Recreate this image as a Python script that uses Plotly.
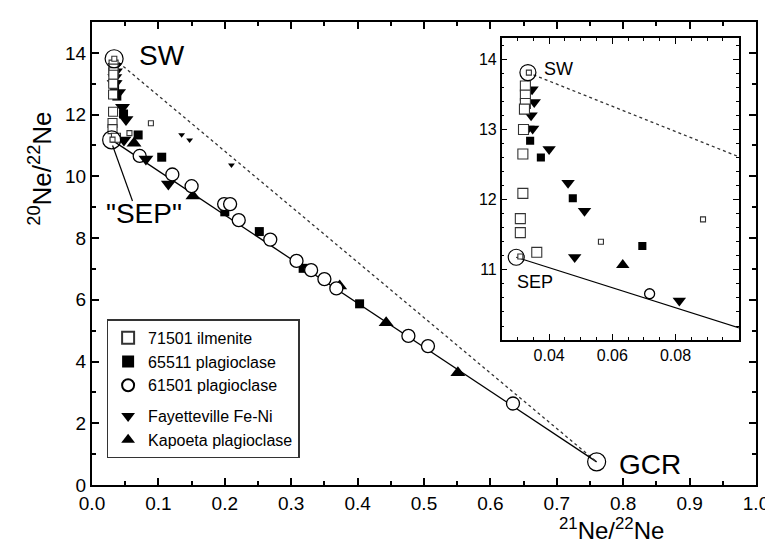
import plotly.graph_objects as go

# ---------------- data (21Ne/22Ne , 20Ne/22Ne) ----------------
ilm_x = [0.0325, 0.0325, 0.0325, 0.0322, 0.0319, 0.0317, 0.0317, 0.0309, 0.0309, 0.0361]
ilm_y = [13.62, 13.49, 13.37, 13.29, 13.00, 12.65, 12.09, 11.73, 11.53, 11.25]
ilm_small_x = [0.0336, 0.0309, 0.0564, 0.0887]
ilm_small_y = [13.81, 11.19, 11.40, 11.72]

pl65511_x = [0.0340, 0.0374, 0.0475, 0.0695, 0.105, 0.200, 0.252, 0.318, 0.403]
pl65511_y = [12.84, 12.60, 12.02, 11.34, 10.62, 8.85, 8.21, 7.02, 5.87]

pl61501_x = [0.0718, 0.121, 0.150, 0.199, 0.208, 0.221, 0.2685, 0.308, 0.330, 0.350, 0.368, 0.4765, 0.506, 0.634]
pl61501_y = [10.66, 10.06, 9.68, 9.10, 9.10, 8.58, 7.95, 7.26, 6.96, 6.67, 6.37, 4.83, 4.50, 2.64]

fay_x = [0.0346, 0.0353, 0.0343, 0.0333, 0.0348, 0.0400, 0.0460, 0.0512, 0.0481, 0.0812, 0.115]
fay_y = [13.57, 13.39, 13.20, 13.01, 13.01, 12.72, 12.24, 11.84, 11.18, 10.56, 9.75]
fay_small_x = [0.135, 0.147, 0.210]
fay_small_y = [11.35, 11.18, 10.37]

kap_x = [0.0633, 0.152, 0.373, 0.443, 0.551]
kap_y = [11.07, 9.36, 6.45, 5.26, 3.64]

end_names = ["SW", "SEP", "GCR"]
end_x = [0.0333, 0.0296, 0.76]
end_y = [13.81, 11.18, 0.75]

main_xticks = [0.0, 0.1, 0.2, 0.3, 0.4, 0.5, 0.6, 0.7, 0.8, 0.9, 1.0]
main_yticks = [0, 2, 4, 6, 8, 10, 12, 14]
inset_xticks = [0.04, 0.06, 0.08]
inset_yticks = [11, 12, 13, 14]

FONT = "Liberation Sans, Arial, Helvetica, sans-serif"

fig = go.Figure()

SW, SEP, GCR = 0, 1, 2


def add_set(big, legend):
    sfx = "" if big else "2"
    xr, yr = "x" + sfx, "y" + sfx
    s = 1.0 if big else 0.9
    # mixing lines
    fig.add_trace(go.Scatter(x=[end_x[SEP], end_x[GCR]], y=[end_y[SEP], end_y[GCR]], mode="lines",
                             line=dict(color="black", width=1.3), xaxis=xr, yaxis=yr,
                             showlegend=False, hoverinfo="skip"))
    fig.add_trace(go.Scatter(x=[end_x[SW], end_x[GCR]], y=[end_y[SW], end_y[GCR]], mode="lines",
                             line=dict(color="#333", width=1.3, dash="dot"), xaxis=xr, yaxis=yr,
                             showlegend=False, hoverinfo="skip"))
    fig.add_trace(go.Scatter(x=pl65511_x, y=pl65511_y, mode="markers", name="65511 plagioclase",
                             marker=dict(symbol="square", size=9 * s, color="black"),
                             xaxis=xr, yaxis=yr, showlegend=legend, legendrank=2, legendgroup="a"))
    fig.add_trace(go.Scatter(x=kap_x, y=kap_y, mode="markers", name="Kapoeta plagioclase",
                             marker=dict(symbol="triangle-up", size=13 * s, color="black"),
                             xaxis=xr, yaxis=yr, showlegend=legend, legendrank=5, legendgroup="b"))
    fig.add_trace(go.Scatter(x=pl61501_x, y=pl61501_y, mode="markers", name="61501 plagioclase",
                             marker=dict(symbol="circle", size=(13 if big else 10), color="white",
                                         line=dict(color="black", width=1.3)),
                             xaxis=xr, yaxis=yr, showlegend=legend, legendrank=3, legendgroup="a"))
    fig.add_trace(go.Scatter(x=fay_x, y=fay_y, mode="markers", name="Fayetteville Fe-Ni",
                             marker=dict(symbol="triangle-down", size=13 * s, color="black"),
                             xaxis=xr, yaxis=yr, showlegend=legend, legendrank=4, legendgroup="b"))
    fig.add_trace(go.Scatter(x=fay_small_x, y=fay_small_y, mode="markers",
                             marker=dict(symbol="triangle-down", size=6, color="black"),
                             xaxis=xr, yaxis=yr, showlegend=False))
    fig.add_trace(go.Scatter(x=ilm_x, y=ilm_y, mode="markers", name="71501 ilmenite",
                             marker=dict(symbol="square", size=(9 if big else 10), color="white",
                                         line=dict(color="#333", width=1.1)),
                             xaxis=xr, yaxis=yr, showlegend=legend, legendrank=1, legendgroup="a"))
    fig.add_trace(go.Scatter(x=ilm_small_x, y=ilm_small_y, mode="markers",
                             marker=dict(symbol="square", size=5, color="white",
                                         line=dict(color="#333", width=1.1)),
                             xaxis=xr, yaxis=yr, showlegend=False))
    fig.add_trace(go.Scatter(x=end_x, y=end_y, mode="markers",
                             marker=dict(symbol="circle-open", size=(18 if big else 16), color="black",
                                         line=dict(color="black", width=1.2)),
                             xaxis=xr, yaxis=yr, showlegend=False, hoverinfo="skip"))


add_set(True, True)
add_set(False, False)

axis_common = dict(showline=True, linecolor="black", mirror="ticks", ticks="inside",
                   tickcolor="black", showgrid=False, zeroline=False)

fig.update_layout(
    width=773, height=544,
    margin=dict(l=84, r=16, t=13, b=67),
    plot_bgcolor="white", paper_bgcolor="white",
    font=dict(family=FONT, color="black"),
    xaxis=dict(range=[0, 1], domain=[0, 1], anchor="y", tickvals=main_xticks,
               ticktext=[f"{v:.1f}" for v in main_xticks], ticklen=7, tickwidth=1.5, linewidth=2,
               ticklabelstandoff=0,
               tickfont=dict(size=19), minor=dict(ticks="inside", dtick=0.05, tick0=0, ticklen=4,
                                                  tickwidth=1.5, tickcolor="black"),
               **axis_common),
    yaxis=dict(range=[0, 15], domain=[0, 1], anchor="x", tickvals=main_yticks, ticklen=7,
               tickwidth=1.5, linewidth=2, tickfont=dict(size=19),
               minor=dict(ticks="inside", dtick=1, tick0=0, ticklen=4, tickwidth=1.5, tickcolor="black"),
               **axis_common),
    xaxis2=dict(range=[0.025, 0.1], domain=[0.617, 0.974], anchor="y2", tickvals=inset_xticks,
                ticktext=[f"{v:.2f}" for v in inset_xticks], ticklen=6, tickwidth=1.2, linewidth=1.5,
                tickfont=dict(size=16),
                minor=dict(ticks="inside", dtick=0.005, tick0=0, ticklen=3, tickwidth=1.2, tickcolor="black"),
                **axis_common),
    yaxis2=dict(range=[10.0, 14.3], domain=[0.313, 0.965], anchor="x2", tickvals=inset_yticks,
                ticklen=6, tickwidth=1.2, linewidth=1.5, tickfont=dict(size=16),
                minor=dict(ticks="inside", dtick=0.2, tick0=10, ticklen=3, tickwidth=1.2, tickcolor="black"),
                **axis_common),
    legend=dict(x=0.022, y=0.358, xanchor="left", yanchor="top", bgcolor="white",
                bordercolor="#333", borderwidth=1.5, font=dict(size=16, family=FONT),
                itemsizing="constant", tracegroupgap=7, traceorder="grouped"),
    showlegend=True,
)

ann = []
# main endmember labels
ann.append(dict(x=0.068, y=13.91, xref="x", yref="y", text=end_names[SW], showarrow=False,
                xanchor="left", yanchor="middle", font=dict(size=28)))
ann.append(dict(x=0.078, y=8.79, xref="x", yref="y", text='"' + end_names[SEP] + '"', showarrow=False,
                xanchor="center", yanchor="middle", font=dict(size=28)))
ann.append(dict(x=0.79, y=0.65, xref="x", yref="y", text=end_names[GCR], showarrow=False,
                xanchor="left", yanchor="middle", font=dict(size=28)))
# inset labels
ann.append(dict(x=0.0379, y=13.86, xref="x2", yref="y2", text=end_names[SW], showarrow=False,
                xanchor="left", yanchor="middle", font=dict(size=18)))
ann.append(dict(x=0.0291, y=10.83, xref="x2", yref="y2", text=end_names[SEP], showarrow=False,
                xanchor="left", yanchor="middle", font=dict(size=18)))
# axis titles
ann.append(dict(x=0.783, y=-0.095, xref="paper", yref="paper", text="<sup>21</sup>Ne/<sup>22</sup>Ne",
                showarrow=False, xanchor="center", yanchor="middle", font=dict(size=24)))
ann.append(dict(x=-0.077, y=0.683, xref="paper", yref="paper", text="<sup>20</sup>Ne/<sup>22</sup>Ne",
                showarrow=False, xanchor="center", yanchor="middle", textangle=-90, font=dict(size=26)))
fig.update_layout(annotations=ann)

# pointer from SEP circle to its label
fig.add_shape(type="line", xref="x", yref="y", x0=0.031, y0=11.0, x1=0.061, y1=9.2,
              line=dict(color="black", width=1.2))

fig.write_html("out.html")
